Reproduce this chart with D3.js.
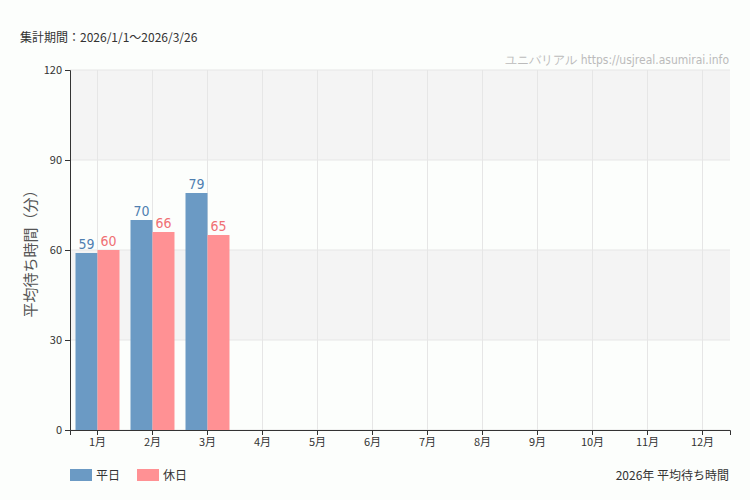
<!DOCTYPE html><html><head><meta charset="utf-8"><script src="https://cdn.jsdelivr.net/npm/d3@7"></script>
<style>body{margin:0;background:#fcfefc}text{font-family:"Noto Sans CJK JP","Noto Sans",sans-serif}</style></head><body>
<svg id="c" width="750" height="500"></svg>
<script>
const months=["1月","2月","3月","4月","5月","6月","7月","8月","9月","10月","11月","12月"];
const weekday=[59,70,79,null,null,null,null,null,null,null,null,null];
const holiday=[60,66,65,null,null,null,null,null,null,null,null,null];
const yTicks=[0,30,60,90,120];
const svg=d3.select("#c");
const L=70,R=730,T=70,B=430;
const x=d3.scaleBand().domain(months).range([L,R]);
const y=d3.scaleLinear().domain([0,120]).range([B,T]);
[[90,120],[30,60]].forEach(b=>svg.append("rect").attr("x",L).attr("width",R-L).attr("y",y(b[1])).attr("height",y(b[0])-y(b[1])).attr("fill","#f4f4f4"));
yTicks.forEach(t=>svg.append("line").attr("x1",L).attr("x2",R).attr("y1",y(t)).attr("y2",y(t)).attr("stroke","#e6e6e6"));
months.forEach(m=>svg.append("line").attr("x1",x(m)+x.bandwidth()/2).attr("x2",x(m)+x.bandwidth()/2).attr("y1",T).attr("y2",B).attr("stroke","#e6e6e6"));
const bw=22;
const nf='"Liberation Sans Narrow","DejaVu Sans Condensed",sans-serif';
[[weekday,"#6b9ac4","#4f7fb0",-bw],[holiday,"#ff9194","#f07074",0]].forEach(([d,c,tc,off])=>{
 months.forEach((m,i)=>{ if(d[i]==null)return; const cx=x(m)+x.bandwidth()/2+off;
  svg.append("rect").attr("x",cx).attr("width",bw).attr("y",y(d[i])).attr("height",B-y(d[i])).attr("fill",c);
  svg.append("text").attr("x",cx+bw/2).attr("y",y(d[i])-4).attr("text-anchor","middle").attr("font-size",14).style("font-family",nf).attr("fill",tc).text(d[i]);});
});
const ya=svg.append("g").attr("transform",`translate(${L},0)`).call(d3.axisLeft(y).tickValues(yTicks).tickSize(5));
const xa=svg.append("g").attr("transform",`translate(0,${B})`).call(d3.axisBottom(x).tickSize(5));
[ya,xa].forEach(a=>{a.selectAll("path,line").attr("stroke","#333");a.selectAll("text").attr("font-size",11).attr("fill","#333").style("font-family",'"Noto Sans CJK JP",sans-serif');});
svg.append("text").attr("transform","translate(36,250) rotate(-90)").attr("text-anchor","middle").attr("font-size",15).attr("fill","#555").text("平均待ち時間（分）");
svg.append("text").attr("x",20).attr("y",42).attr("font-size",12).attr("fill","#333").text("集計期間：2026/1/1〜2026/3/26");
svg.append("text").attr("x",729).attr("y",64).attr("text-anchor","end").attr("font-size",12).attr("fill","#bbb").style("font-family",nf).text("ユニバリアル  https://usjreal.asumirai.info");
svg.append("rect").attr("x",70).attr("y",469).attr("width",22).attr("height",12).attr("fill","#6b9ac4");
svg.append("text").attr("x",96).attr("y",480).attr("font-size",12).attr("fill","#333").text("平日");
svg.append("rect").attr("x",137).attr("y",469).attr("width",22).attr("height",12).attr("fill","#ff9194");
svg.append("text").attr("x",163).attr("y",480).attr("font-size",12).attr("fill","#333").text("休日");
svg.append("text").attr("x",729).attr("y",480).attr("text-anchor","end").attr("font-size",12).attr("fill","#333").text("2026年 平均待ち時間");
</script></body></html>
